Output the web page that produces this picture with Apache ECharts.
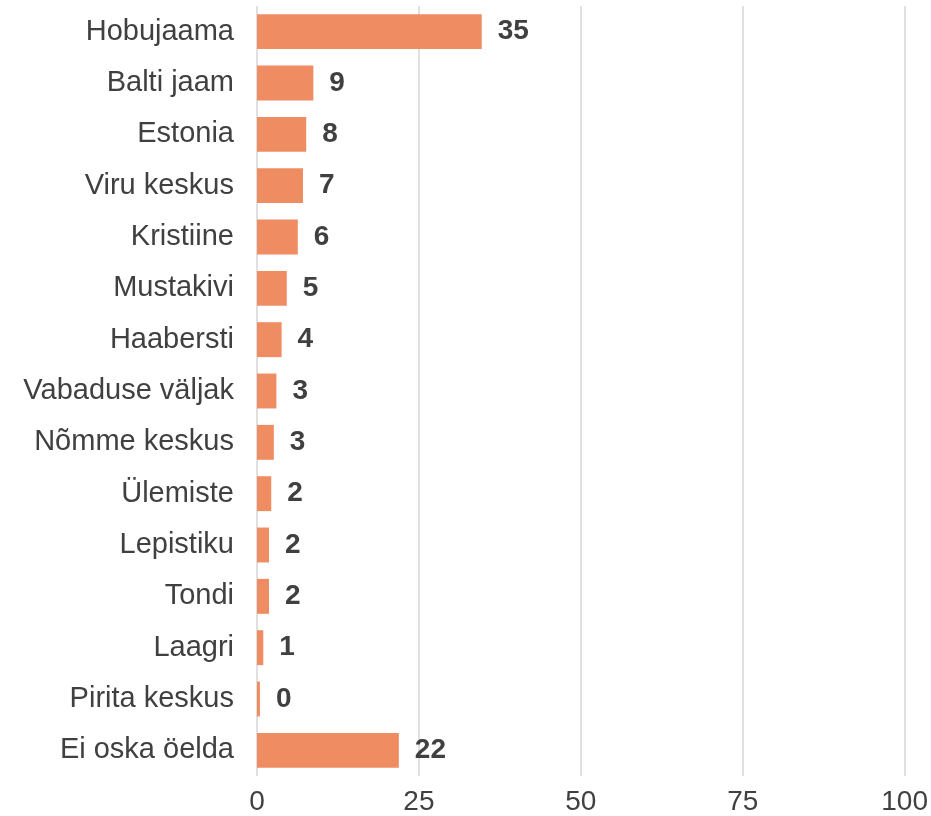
<!DOCTYPE html>
<html>
<head>
<meta charset="utf-8">
<script src="https://cdn.jsdelivr.net/npm/echarts@6/dist/echarts.min.js"></script>
<style>html,body{margin:0;padding:0;background:#fff;}#c{width:931px;height:816px;}</style>
</head>
<body>
<div id="c"></div>
<script>
const categories = ["Hobujaama","Balti jaam","Estonia","Viru keskus","Kristiine","Mustakivi","Haabersti","Vabaduse väljak","Nõmme keskus","Ülemiste","Lepistiku","Tondi","Laagri","Pirita keskus","Ei oska öelda"];
const values = [34.7, 8.7, 7.6, 7.1, 6.3, 4.6, 3.8, 3.0, 2.6, 2.2, 1.85, 1.85, 0.97, 0.45, 21.9];
const xTicks = [0, 25, 50, 75, 100];

const chart = echarts.init(document.getElementById('c'));
chart.setOption({
  animation: false,
  textStyle: { fontFamily: 'Liberation Sans, Arial, sans-serif' },
  grid: { left: 257, right: 26, top: 6, bottom: 39, containLabel: false },
  xAxis: {
    type: 'value', min: xTicks[0], max: xTicks[xTicks.length-1], interval: 25,
    axisLine: { show: false }, axisTick: { show: false },
    axisLabel: { fontSize: 28, color: '#404040', margin: 12, fontFamily: 'Liberation Sans' },
    splitLine: { show: true, lineStyle: { color: '#e0e0e0', width: 2 } }
  },
  yAxis: {
    type: 'category', data: categories, inverse: true,
    axisLine: { show: false }, axisTick: { show: false },
    axisLabel: { fontSize: 29, color: '#404040', margin: 23, fontFamily: 'Liberation Sans' }
  },
  series: [{
    type: 'bar', data: values, barWidth: '68%',
    itemStyle: { color: '#F08C62' },
    label: {
      show: true, position: 'right', distance: 16,
      fontSize: 28, fontWeight: 'bold', color: '#404040', fontFamily: 'Liberation Sans',
      formatter: p => Math.round(p.value)
    }
  }]
});
</script>
</body>
</html>
